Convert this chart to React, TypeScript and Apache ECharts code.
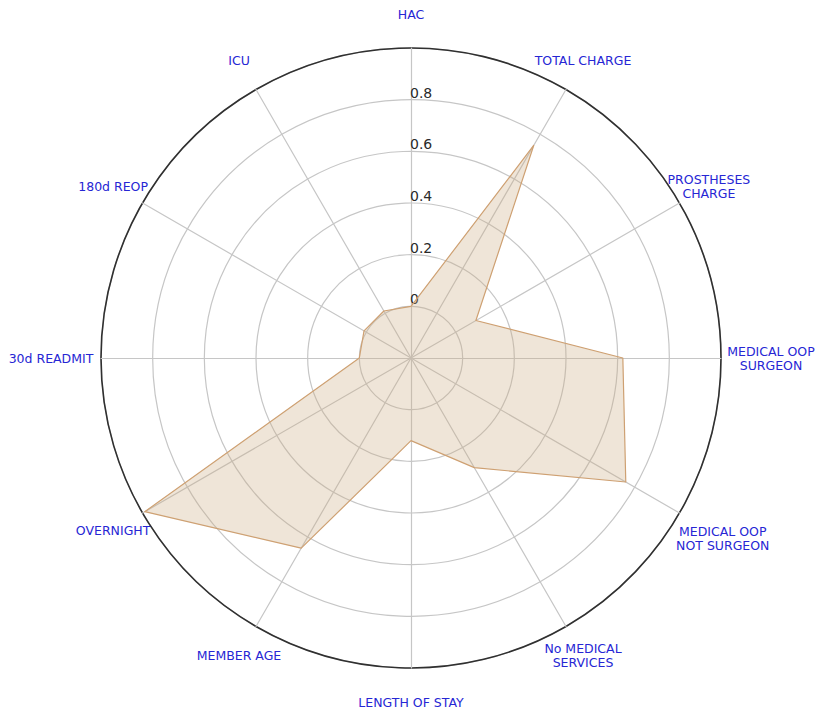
import React, { useEffect, useRef } from "react";
import * as echarts from "echarts";

// Axes in clockwise order starting at the top
const categories: string[] = [
  "HAC",
  "TOTAL CHARGE",
  "PROSTHESES\nCHARGE",
  "MEDICAL OOP\nSURGEON",
  "MEDICAL OOP\nNOT SURGEON",
  "No MEDICAL\nSERVICES",
  "LENGTH OF STAY",
  "MEMBER AGE",
  "OVERNIGHT",
  "30d READMIT",
  "180d REOP",
  "ICU",
];

const values: number[] = [0.0, 0.75, 0.09, 0.62, 0.76, 0.29, 0.12, 0.65, 0.99, 0.0, 0.01, 0.01];

const radialMin = -0.2;
const radialMax = 1.0;
const tickLabels: string[] = ["0", "0.2", "0.4", "0.6", "0.8"];

// extra label distance for the wide side labels
const wideLabels: string[] = ["MEDICAL OOP\nSURGEON", "MEDICAL OOP\nNOT SURGEON", "30d READMIT"];

export default function App() {
  const ref = useRef<HTMLDivElement>(null);
  useEffect(() => {
    if (!ref.current) return;
    const chart = echarts.init(ref.current, null, { renderer: "svg" });
    // ECharts radar runs counter-clockwise: reorder to get clockwise layout
    const order = [0, ...Array.from({ length: categories.length - 1 }, (_, i) => categories.length - 1 - i)];
    const center = [411, 358];
    const radius = 310;
    const font = "DejaVu Sans";
    const option: any = {
      animation: false,
      backgroundColor: "#ffffff",
      radar: [
        {
          center,
          radius,
          startAngle: 90,
          shape: "circle",
          splitNumber: 6,
          nameGap: 34,
          axisName: {
            color: "#2626d4",
            fontSize: 12.5,
            fontFamily: font,
            lineHeight: 14,
            align: "center",
            verticalAlign: "middle",
          },
          indicator: order.map((i) => ({
            name: categories[i],
            min: radialMin,
            max: radialMax,
            nameGap: wideLabels.includes(categories[i]) ? 50 : 34,
            axisLabel:
              i === 0
                ? {
                    show: true,
                    color: "#2a2a2a",
                    fontSize: 14,
                    fontFamily: font,
                    align: "left",
                    verticalAlign: "bottom",
                    margin: 1,
                    formatter: (v: number) => {
                      const r = Math.round(v * 10) / 10;
                      const s = String(r);
                      return tickLabels.includes(s) ? s : "";
                    },
                  }
                : { show: false },
          })),
          axisLine: { show: true, lineStyle: { color: "#c6c6c6", width: 1.2 } },
          axisTick: { show: false },
          axisLabel: { show: false },
          splitArea: { show: false },
          splitLine: { show: true, lineStyle: { color: "#c6c6c6", width: 1.2 } },
        },
        {
          center,
          radius,
          startAngle: 90,
          shape: "circle",
          splitNumber: 1,
          axisName: { show: false },
          indicator: order.map((i) => ({ name: categories[i], min: 0, max: 1 })),
          axisLine: { show: false },
          axisTick: { show: false },
          axisLabel: { show: false },
          splitArea: { show: false },
          splitLine: { show: true, lineStyle: { color: "#303030", width: 1.6 } },
        },
      ],
      series: [
        {
          type: "radar",
          radarIndex: 0,
          symbol: "none",
          lineStyle: { color: "#cf9f70", width: 1.2 },
          areaStyle: { color: "rgba(205,172,132,0.45)" },
          data: [{ value: order.map((i) => values[i]), name: "profile" }],
        },
      ],
    };
    chart.setOption(option);
    return () => chart.dispose();
  }, []);
  return (
    <div
      ref={ref}
      style={{ position: "fixed", left: 0, top: 0, width: 817, height: 715 }}
    />
  );
}
